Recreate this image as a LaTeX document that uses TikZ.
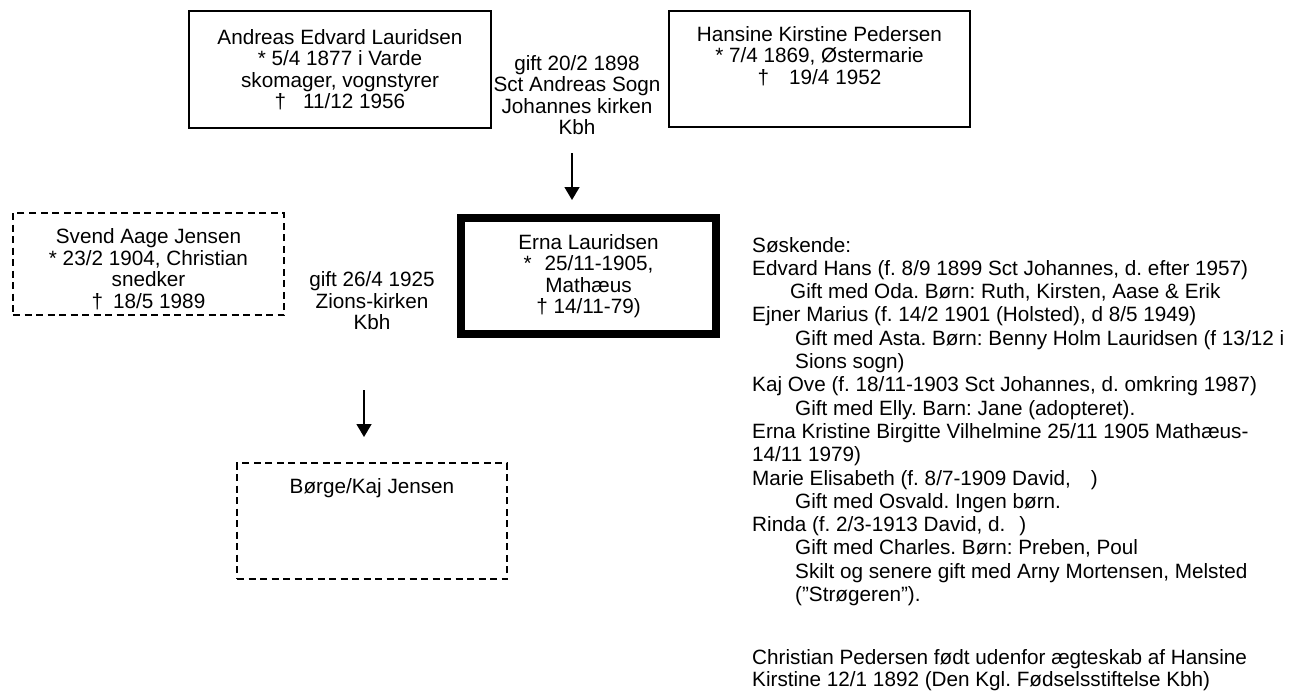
\documentclass[tikz,border=0pt]{standalone}
\usepackage{fontspec}
\setmainfont{Liberation Sans}
\frenchspacing
\usetikzlibrary{positioning}
\usetikzlibrary{arrows.meta}
\tikzstyle{person}=[draw,line width=2pt,inner sep=0pt,align=center]
\tikzstyle{dashperson}=[person,dash pattern=on 7pt off 4.5pt]
\tikzstyle{mainperson}=[person,line width=8pt]
\tikzstyle{gift}=[inner sep=0pt,align=center]
\tikzstyle{down}=[draw,line width=1.5pt,-{Triangle[length=13pt,width=15pt]}]
\tikzstyle{sib}=[inner sep=0pt,anchor=base west]

\begin{document}
\begin{tikzpicture}[x=1pt,y=-1pt,font=\fontsize{20.7}{21.5}\selectfont]

  \useasboundingbox (0,0) rectangle (1306,693);

  % parents
  \node[person, minimum width=302pt, minimum height=117pt] (andreas) at (340,69.5)
     {Andreas Edvard Lauridsen\\ * 5/4 1877 i Varde\\ skomager, vognstyrer\\ †\hspace{17pt}11/12 1956};
  \node[person, minimum width=301pt, minimum height=116pt] (hansine) at (819.5,69)
     {Hansine Kirstine Pedersen\\ * 7/4 1869, Østermarie\\ †\hspace{20pt}19/4 1952\\ \strut};
  \node[gift] (gift1) at (577,95) {gift 20/2 1898\\ Sct Andreas Sogn\\ Johannes kirken\\ Kbh};

  \coordinate (a1) at (572,153);
  \coordinate (b1) at (572,200);
  \draw[down] (a1) -- (b1);

  % Erna and husband
  \node[mainperson, minimum width=255pt, minimum height=116pt] (erna) at (588.5,276)
     {Erna Lauridsen\\ *\hspace{13pt}25/11-1905,\\ Mathæus\\ † 14/11-79)};
  \node[dashperson, minimum width=271pt, minimum height=102pt, text height=89.6pt] (svend) at (148.5,264)
     {Svend Aage Jensen\\ * 23/2 1904, Christian\\ snedker\\ †\hspace{10pt}18/5 1989};
  \node[gift] (gift2) at (372,301) {gift 26/4 1925\\ Zions-kirken\\ Kbh};

  \coordinate (a2) at (364,390);
  \coordinate (b2) at (364,437);
  \draw[down] (a2) -- (b2);

  \node[dashperson, minimum width=270pt, minimum height=116pt] (borge) at (372,521)
     {Børge/Kaj Jensen\\ \strut\\ \strut\\ \strut};

  % siblings
  \foreach \y/\x/\name/\label in {252/752/s0/{Søskende:},
      275.3/752/s1/{Edvard Hans (f. 8/9 1899 Sct Johannes, d. efter 1957)},
      298.6/790/s2/{Gift med Oda. Børn: Ruth, Kirsten, Aase \& Erik},
      321.9/752/s3/{Ejner Marius (f. 14/2 1901 (Holsted), d 8/5 1949)},
      345.2/795/s4/{Gift med Asta. Børn: Benny Holm Lauridsen (f 13/12 i},
      368.5/795/s5/{Sions sogn)},
      391.8/752/s6/{Kaj Ove (f. 18/11-1903 Sct Johannes, d. omkring 1987)},
      415.1/795/s7/{Gift med Elly. Barn: Jane (adopteret).},
      438.4/752/s8/{Erna Kristine Birgitte Vilhelmine 25/11 1905 Mathæus-},
      461.7/752/s9/{14/11 1979)},
      485/752/s10/{Marie Elisabeth (f. 8/7-1909 David,\hspace{20pt})},
      508.3/795/s11/{Gift med Osvald. Ingen børn.},
      531.6/752/s12/{Rinda (f. 2/3-1913 David, d.\hspace{14pt})},
      554.9/795/s13/{Gift med Charles. Børn: Preben, Poul},
      578.2/795/s14/{Skilt og senere gift med Arny Mortensen, Melsted},
      601.5/795/s15/{(”Strøgeren”).},
      664/752/s16/{Christian Pedersen født udenfor ægteskab af Hansine},
      686/752/s17/{Kirstine 12/1 1892 (Den Kgl. Fødselsstiftelse Kbh)}}
     \node[sib] (\name) at (\x,\y) {\label};

\end{tikzpicture}
\end{document}
